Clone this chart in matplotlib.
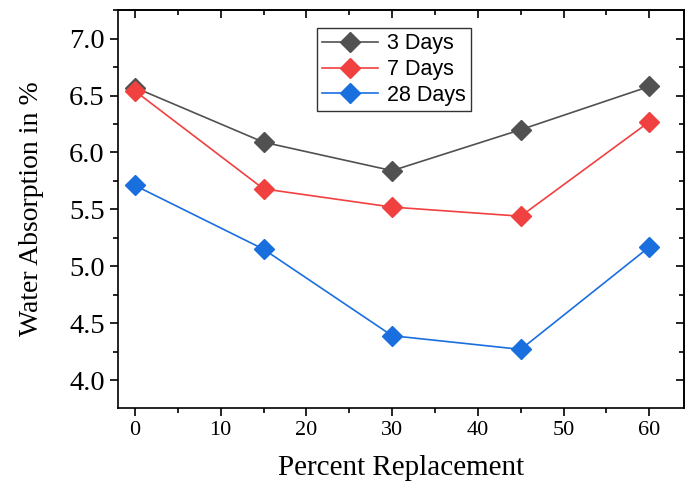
import matplotlib
matplotlib.use("Agg")
import matplotlib.pyplot as plt
from matplotlib.ticker import MultipleLocator, FormatStrFormatter, NullFormatter

replacement = [0, 15, 30, 45, 60]
days3 = [6.57, 6.09, 5.84, 6.20, 6.58]
days7 = [6.54, 5.68, 5.52, 5.44, 6.27]
days28 = [5.71, 5.15, 4.39, 4.27, 5.17]
series_labels = ["3 Days", "7 Days", "28 Days"]
colors = ["#515151", "#F14040", "#1A6FDF"]

fig = plt.figure(figsize=(6.85, 4.84), dpi=100)
ax = fig.add_axes([0.172, 0.157, 0.826, 0.822])

for vals, lab, c in zip([days3, days7, days28], series_labels, colors):
    ax.plot(replacement, vals, color=c, lw=1.2, marker="D", markersize=10.5,
            markeredgecolor=c, markerfacecolor=c, label=lab)

ax.set_xlim(-2, 64)
ax.set_ylim(3.755, 7.25)
ax.xaxis.set_major_locator(MultipleLocator(10))
ax.xaxis.set_minor_locator(MultipleLocator(5))
ax.yaxis.set_major_locator(MultipleLocator(0.5))
ax.yaxis.set_minor_locator(MultipleLocator(0.25))
ax.yaxis.set_major_formatter(FormatStrFormatter("%.1f"))

ax.tick_params(which="both", direction="out", width=1.2)
ax.tick_params(which="major", length=6)
ax.tick_params(which="minor", length=3.5)
for sp in ax.spines.values():
    sp.set_linewidth(1.2)

# mirrored inward ticks on the top and right edges
top = ax.secondary_xaxis("top")
top.xaxis.set_major_locator(MultipleLocator(10))
top.xaxis.set_minor_locator(MultipleLocator(5))
top.xaxis.set_major_formatter(NullFormatter())
top.tick_params(which="both", direction="in", width=1.2)
top.tick_params(which="major", length=6)
top.tick_params(which="minor", length=3.5)
top.spines["top"].set_linewidth(1.2)

right = ax.secondary_yaxis("right")
right.yaxis.set_major_locator(MultipleLocator(0.5))
right.yaxis.set_minor_locator(MultipleLocator(0.25))
right.yaxis.set_major_formatter(NullFormatter())
right.tick_params(which="both", direction="in", width=1.2)
right.tick_params(which="major", length=6)
right.tick_params(which="minor", length=3.5)
right.spines["right"].set_linewidth(1.2)

serif = "Liberation Serif"
for t in ax.get_yticklabels():
    t.set_fontfamily(serif)
    t.set_fontsize(20.5)
for t in ax.get_xticklabels():
    t.set_fontfamily(serif)
    t.set_fontsize(16)

ax.set_xlabel("Percent Replacement", fontfamily=serif, fontsize=21, labelpad=11)
ax.set_ylabel("Water Absorption in %", fontfamily=serif, fontsize=20, labelpad=18)

leg = ax.legend(loc="upper left", bbox_to_anchor=(0.352, 0.955),
                prop={"family": "Liberation Sans", "size": 15.5},
                frameon=True, fancybox=False, edgecolor="black",
                handlelength=2.6, handletextpad=0.4, borderpad=0.25,
                labelspacing=0.22, borderaxespad=0)
leg.get_frame().set_linewidth(1.0)

fig.savefig("out.png", dpi=100)
